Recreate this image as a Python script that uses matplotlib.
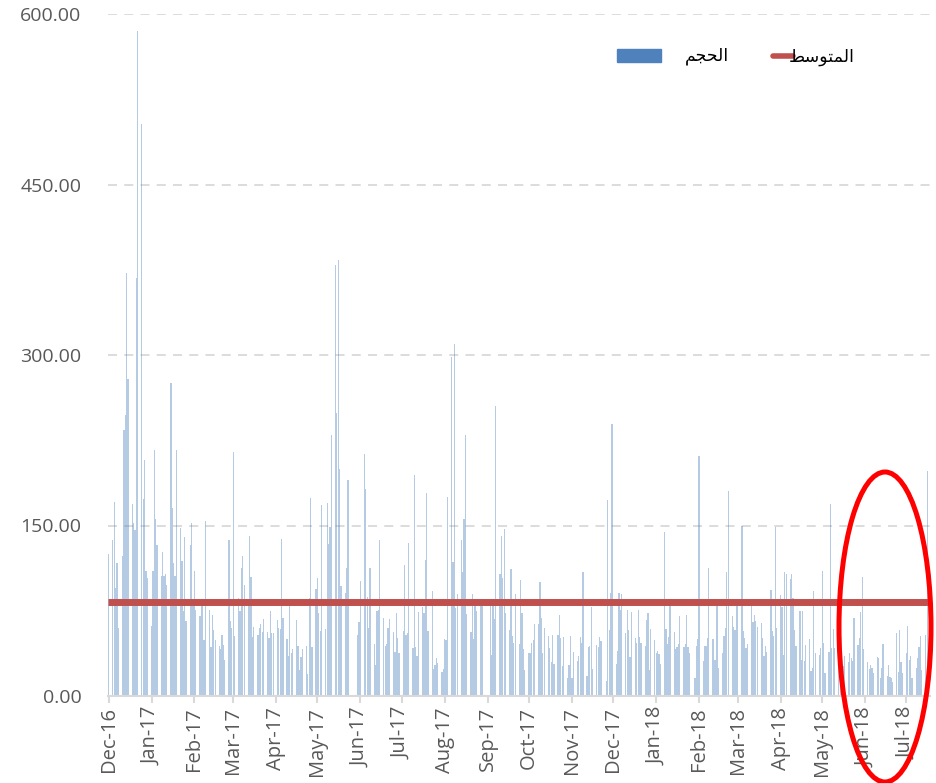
import matplotlib
matplotlib.use("Agg")
import matplotlib.pyplot as plt
import matplotlib.dates as mdates
from matplotlib.patches import Ellipse, Rectangle
from matplotlib.lines import Line2D
import pandas as pd
import numpy as np

# ---- data (daily volume per trading day, Sun-Thu) ----
months = ["2016-12", "2017-01", "2017-02", "2017-03", "2017-04", "2017-05", "2017-06",
          "2017-07", "2017-08", "2017-09", "2017-10", "2017-11", "2017-12", "2018-01",
          "2018-02", "2018-03", "2018-04", "2018-05", "2018-06", "2018-07"]

dec16 = [125, 137, 171, 95, 117, 60, 123, 234, 247, 372, 279, 169, 152, 146, 368, 585, 503, 173, 208, 110, 104]
jan17 = [62, 110, 216, 156, 133, 106, 127, 106, 107, 98, 275, 165, 117, 106, 216, 148, 119, 75, 140, 66, 133, 152, 79]
feb17 = [110, 76, 70, 79, 85, 49, 154, 76, 43, 71, 58, 49, 44, 41, 54, 45, 32, 137, 66, 60]
mar17 = [215, 53, 86, 75, 113, 123, 98, 79, 141, 105, 52, 61, 54, 60, 63, 56, 68, 56, 51, 75, 55, 55]
apr17 = [67, 60, 59, 138, 69, 50, 35, 80, 38, 41, 67, 44, 23, 34, 41, 44, 19, 86, 174, 43, 94]
may17 = [104, 73, 57, 168, 59, 170, 134, 149, 230, 379, 249, 384, 200, 97, 91, 113, 190, 0, 0, 0, 0, 54, 65]
jun17 = [101, 213, 182, 87, 60, 113, 46, 27, 75, 76, 137, 69, 44, 46, 60, 68, 56, 39, 73, 51, 38]
jul17 = [57, 115, 54, 55, 135, 42, 194, 43, 35, 74, 78, 73, 120, 179, 57, 92, 24, 27, 33, 29, 21, 24]
aug17 = [50, 49, 175, 298, 118, 310, 77, 90, 137, 109, 156, 230, 72, 56, 90, 50, 79, 75, 79, 79, 0, 0, 0]
sep17 = [79, 36, 85, 68, 255, 107, 141, 104, 147, 73, 58, 112, 53, 47, 90, 46, 102, 73, 41, 23]
oct17 = [38, 38, 47, 49, 63, 63, 100, 69, 38, 60, 53, 42, 30, 54, 28, 54, 71, 51, 26, 52, 16, 27, 53]
nov17 = [16, 39, 31, 35, 52, 47, 109, 18, 43, 44, 78, 24, 45, 43, 52, 48, 0, 13, 172, 58, 91, 239]
dec17 = [28, 40, 91, 76, 90, 55, 76, 58, 34, 74, 51, 47, 76, 52, 47, 44, 67, 73, 23, 59, 49]
jan18 = [38, 40, 37, 28, 144, 59, 46, 52, 79, 56, 41, 43, 46, 70, 43, 46, 71, 43, 38, 0, 16, 44, 50]
feb18 = [211, 31, 44, 44, 51, 113, 50, 32, 32, 79, 25, 38, 53, 60, 109, 180, 70, 61, 58, 79]
mar18 = [79, 150, 57, 51, 42, 46, 79, 65, 71, 66, 61, 64, 51, 35, 44, 39, 93, 57, 53, 149, 60]
apr18 = [89, 78, 36, 109, 107, 103, 107, 86, 58, 44, 75, 32, 75, 31, 45, 50, 22, 25, 92, 38, 36, 42]
may18 = [110, 47, 20, 39, 169, 42, 59, 42, 50, 28, 25, 26, 35, 30, 38, 33, 31, 69, 45, 51, 74, 105, 41]
jun18 = [30, 24, 27, 25, 20, 34, 33, 16, 25, 46, 18, 27, 17, 16, 12, 55, 21, 58, 30, 20]
jul18 = [38, 62, 32, 35, 16, 25, 33, 43, 53, 23, 54, 198]

monthly_values = [dec16, jan17, feb17, mar17, apr17, may17, jun17, jul17, aug17, sep17,
                  oct17, nov17, dec17, jan18, feb18, mar18, apr18, may18, jun18, jul18]

average_value = 82.5
y_ticks = [0, 150, 300, 450, 600]
legend_volume = "\uFEE2\uFEA0\uFEA4\uFEDF\uFE8D"          # الحجم (shaped, visual order)
legend_average = "\uFEC2\uFEB3\uFEEE\uFE98\uFEE4\uFEDF\uFE8D"  # المتوسط (shaped, visual order)

# ---- build date / value series ----
dates, values = [], []
for m, vals in zip(months, monthly_values):
    start = pd.Timestamp(m + "-01")
    end = start + pd.offsets.MonthEnd(0)
    days = pd.bdate_range(start, end, freq="C", weekmask="Sun Mon Tue Wed Thu")
    for d, v in zip(days, vals):
        dates.append(d)
        values.append(v)

# ---- figure ----
W, H = 936, 783
fig = plt.figure(figsize=(W / 100, H / 100), dpi=100)
ax = fig.add_axes([108 / W, 1 - 696 / H, (930 - 108) / W, (696 - 14) / H])

grey = "#595959"
ax.bar(dates, values, width=0.9, color="#4f81bd", alpha=0.42, linewidth=0, zorder=2)

x0 = pd.Timestamp("2016-12-01") - pd.Timedelta(hours=12)
x1 = pd.Timestamp("2018-07-18")
ax.plot([x0, x1], [average_value, average_value], color="#c0504d", lw=5,
        solid_capstyle="butt", zorder=3)

ax.set_xlim(x0, x1)
ax.set_ylim(0, 600)
ax.set_yticks(y_ticks)
ax.set_yticklabels([f"{t:.2f}" for t in y_ticks])
ax.yaxis.grid(True, color="#d9d9d9", lw=1.3, ls=(0, (5, 4)), zorder=0)
ax.set_axisbelow(True)

ax.xaxis.set_major_locator(mdates.MonthLocator())
ax.xaxis.set_major_formatter(mdates.DateFormatter("%b-%y"))
for lab in ax.get_xticklabels():
    lab.set_rotation(90)

for s in ["top", "right", "left"]:
    ax.spines[s].set_visible(False)
ax.spines["bottom"].set_color("#d9d9d9")
ax.spines["bottom"].set_linewidth(1.5)

ax.tick_params(axis="y", length=0, pad=19, labelsize=14, labelcolor=grey)
ax.tick_params(axis="x", length=5, width=1.5, color="#d9d9d9", pad=3, labelsize=14.5, labelcolor=grey)
for lab in ax.get_yticklabels() + ax.get_xticklabels():
    lab.set_fontfamily("Open Sans")

# ---- legend (manual, right-to-left as in the reference) ----
fig.patches.append(Rectangle((617 / W, 1 - 62 / H), 44 / W, 13 / H, transform=fig.transFigure,
                             color="#4f81bd", figure=fig))
fig.text(707 / W, 1 - 56 / H, legend_volume, ha="center", va="center", fontsize=12.5,
         family=["DejaVu Sans"], color="black")
fig.lines.append(Line2D([773 / W, 793 / W], [1 - 56 / H, 1 - 56 / H], transform=fig.transFigure,
                        color="#c0504d", lw=4, solid_capstyle="round", figure=fig))
fig.text(822 / W, 1 - 57 / H, legend_average, ha="center", va="center", fontsize=12.5,
         family=["DejaVu Sans"], color="black")

# ---- red highlight ellipse ----
fig.patches.append(Ellipse((885 / W, 1 - 627 / H), 92 / W, 310 / H, transform=fig.transFigure,
                           fill=False, edgecolor="#ff0000", lw=3.6, figure=fig, zorder=10))

fig.savefig("out.png", dpi=100)
